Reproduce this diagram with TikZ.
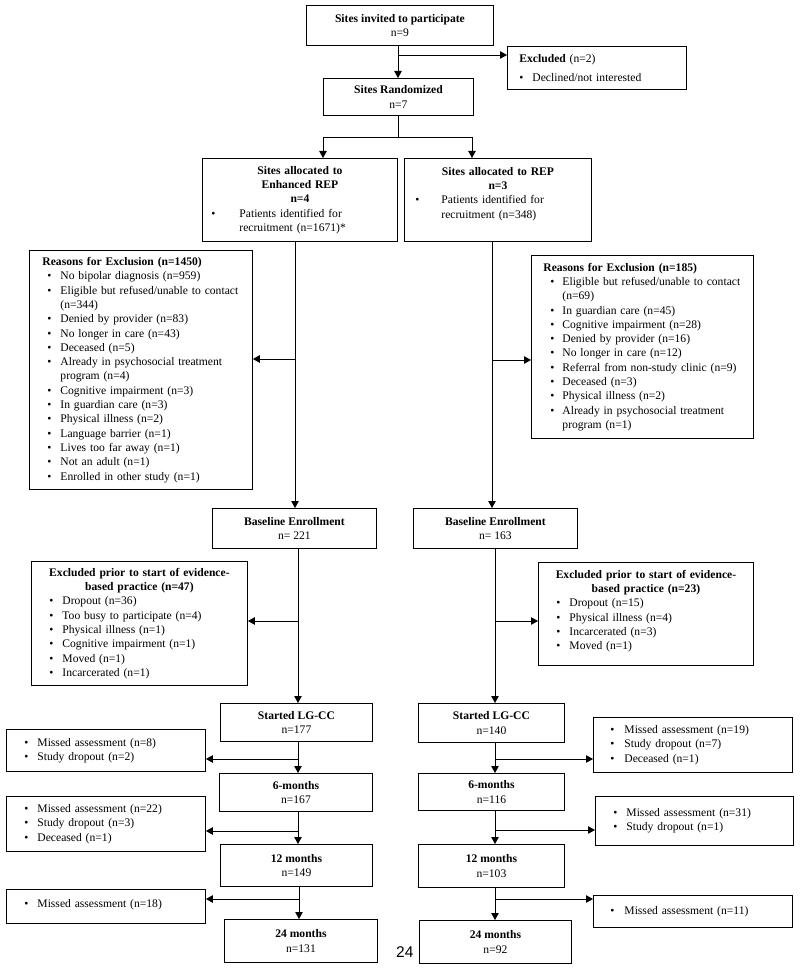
\documentclass[tikz,border=0pt]{standalone}
\usepackage{fontspec}
\setmainfont{Liberation Serif}
\newfontfamily\pgsans{Liberation Sans}
\usetikzlibrary{arrows.meta}
\newcommand{\ffs}{\fontsize{11.6}{14.3}\selectfont}
\newcommand{\blx}[3]{\hangindent=\dimexpr#1pt+#2pt\relax\hangafter=1\hspace*{#1pt}\makebox[#2pt][l]{\textbullet}#3}
\newcommand{\bl}[1]{\blx{18}{13}{#1}}
\tikzset{
  bx/.style={draw, line width=0.9pt, anchor=north west, inner sep=0pt, font=\ffs},
  mb/.style={bx, align=center},
  lb/.style={bx, align=left},
  ln/.style={line width=0.9pt},
  arr/.style={line width=0.9pt, -{Triangle[length=7pt,width=7.5pt]}},
}
\begin{document}
\begin{tikzpicture}[x=1pt,y=-1pt]
\fill[white] (0,0) rectangle (800,968);
\useasboundingbox (0,0) rectangle (800,968);

% top
\node[mb, minimum width=187pt, minimum height=40pt] (inv) at (306,5) {\textbf{Sites invited to participate}\\n=9};
\node[lb, text width=179pt, minimum height=43pt] (excl) at (507,46) {\hspace*{12pt}\textbf{Excluded} (n=2)\par\vspace{5.5pt}\blx{12}{13}{Declined/not interested}\par};
\node[mb, minimum width=150pt, minimum height=37pt] (rand) at (323,78) {\textbf{Sites Randomized}\\n=7};

\node[lb, text width=195pt, minimum height=83pt] (enh) at (202,158) {{\centering\bfseries Sites allocated to\\Enhanced REP\\n=4\par}\blx{9}{28}{Patients identified for\newline recruitment (n=1671)*}\par};
\node[lb, text width=187pt, minimum height=83pt] (rep) at (404,158) {{\centering\bfseries Sites allocated to REP\\n=3\par}\blx{11}{26}{Patients identified for\newline recruitment (n=348)}\par\mbox{}\par};

% reasons
\node[lb, text width=223pt, minimum height=239pt] (rl) at (29,250) {\hspace*{13pt}\textbf{Reasons for Exclusion (n=1450)}\par
\bl{No bipolar diagnosis (n=959)}\par
\bl{Eligible but refused/unable to contact\newline(n=344)}\par
\bl{Denied by provider (n=83)}\par
\bl{No longer in care (n=43)}\par
\bl{Deceased (n=5)}\par
\bl{Already in psychosocial treatment\newline program (n=4)}\par
\bl{Cognitive impairment (n=3)}\par
\bl{In guardian care (n=3)}\par
\bl{Physical illness (n=2)}\par
\bl{Language barrier (n=1)}\par
\bl{Lives too far away (n=1)}\par
\bl{Not an adult (n=1)}\par
\bl{Enrolled in other study (n=1)}\par};

\node[lb, text width=222pt, minimum height=183pt] (rr) at (531,255) {\hspace*{12pt}\textbf{Reasons for Exclusion (n=185)}\par
\blx{19}{12}{Eligible but refused/unable to contact\newline(n=69)}\par
\blx{19}{12}{In guardian care (n=45)}\par
\blx{19}{12}{Cognitive impairment (n=28)}\par
\blx{19}{12}{Denied by provider (n=16)}\par
\blx{19}{12}{No longer in care (n=12)}\par
\blx{19}{12}{Referral from non-study clinic (n=9)}\par
\blx{19}{12}{Deceased (n=3)}\par
\blx{19}{12}{Physical illness (n=2)}\par
\blx{19}{12}{Already in psychosocial treatment\newline program (n=1)}\par};

% baseline
\node[mb, minimum width=164pt, minimum height=40pt] (bl) at (212,508) {\textbf{Baseline Enrollment}\\n= 221};
\node[mb, minimum width=164pt, minimum height=40pt] (br) at (413,508) {\textbf{Baseline Enrollment}\\n= 163};

% excluded prior
\node[lb, text width=216pt, minimum height=124pt] (el) at (31,561) {{\centering\bfseries Excluded prior to start of evidence-\\based practice (n=47)\par}
\bl{Dropout (n=36)}\par
\bl{Too busy to participate (n=4)}\par
\bl{Physical illness (n=1)}\par
\bl{Cognitive impairment (n=1)}\par
\bl{Moved (n=1)}\par
\bl{Incarcerated (n=1)}\par};
\node[lb, text width=215pt, minimum height=103pt] (er) at (538,562) {{\centering\bfseries Excluded prior to start of evidence-\\based practice (n=23)\par}
\bl{Dropout (n=15)}\par
\bl{Physical illness (n=4)}\par
\bl{Incarcerated (n=3)}\par
\bl{Moved (n=1)}\par\vspace{-6.3pt}\mbox{}\par};

% follow-up left
\node[mb, minimum width=152pt, minimum height=38pt] (sl) at (220,703) {\textbf{Started LG-CC}\\n=177};
\node[mb, minimum width=153pt, minimum height=38pt] (m6l) at (219,773) {\textbf{6-months}\\n=167};
\node[mb, minimum width=152pt, minimum height=42pt] (m12l) at (220,844) {\textbf{12 months}\\n=149};
\node[mb, minimum width=153pt, minimum height=43pt] (m24l) at (224,919) {\textbf{24 months}\\n=131};
\node[lb, text width=199pt, minimum height=42pt] (s1l) at (6,729) {\bl{Missed assessment (n=8)}\par\bl{Study dropout (n=2)}\par};
\node[lb, text width=199pt, minimum height=55pt] (s2l) at (6,796) {\bl{Missed assessment (n=22)}\par\bl{Study dropout (n=3)}\par\bl{Deceased (n=1)}\par};
\node[lb, text width=199pt, minimum height=34pt] (s3l) at (6,889) {\bl{Missed assessment (n=18)}\par\vspace{-8pt}\mbox{}\par};

% follow-up right
\node[mb, minimum width=146pt, minimum height=39pt] (sr) at (418,703) {\textbf{Started LG-CC}\\n=140};
\node[mb, minimum width=146pt, minimum height=37pt] (m6r) at (418,773) {\textbf{6-months}\\n=116};
\node[mb, minimum width=146pt, minimum height=43pt] (m12r) at (418,844) {\textbf{12 months}\\n=103};
\node[mb, minimum width=152pt, minimum height=43pt] (m24r) at (419,920) {\textbf{24 months}\\n=92};
\node[lb, text width=199pt, minimum height=55pt] (s1r) at (593,717) {\blx{17}{14}{Missed assessment (n=19)}\par\blx{17}{14}{Study dropout (n=7)}\par\blx{17}{14}{Deceased (n=1)}\par};
\node[lb, text width=198pt, minimum height=49pt] (s2r) at (595,796) {\bl{Missed assessment (n=31)}\par\bl{Study dropout (n=1)}\par};
\node[lb, text width=199pt, minimum height=32pt] (s3r) at (593,895) {\blx{17}{14}{Missed assessment (n=11)}\par};

\node[font=\pgsans\fontsize{15.5}{18}\selectfont, anchor=base west, inner sep=0pt] (pg) at (396,957) {24};

% connectors top
\coordinate (j0) at (398,55);
\draw[arr] (inv.south -| j0) -- (rand.north -| j0);
\draw[arr] (j0) -- (j0 -| excl.west);
\coordinate (j1) at (398,137);
\coordinate (jl) at (323,137);
\coordinate (jr) at (472,137);
\draw[ln] (rand.south -| j1) -- (j1);
\draw[ln] (jl) -- (jr);
\draw[arr] (jl) -- (enh.north -| jl);
\draw[arr] (jr) -- (rep.north -| jr);

% allocation columns
\coordinate (a1) at (295,359);
\draw[arr] (enh.south -| a1) -- (bl.north -| a1);
\draw[arr] (a1) -- (a1 -| rl.east);
\coordinate (b1) at (492,360);
\draw[arr] (rep.south -| b1) -- (br.north -| b1);
\draw[arr] (b1) -- (b1 -| rr.west);

% left lower
\coordinate (a2) at (298,621);
\draw[arr] (bl.south -| a2) -- (sl.north -| a2);
\draw[arr] (a2) -- (a2 -| el.east);
\coordinate (a3) at (298,759);
\draw[arr] (sl.south -| a3) -- (m6l.north -| a3);
\draw[arr] (a3) -- (a3 -| s1l.east);
\coordinate (a4) at (298,831);
\draw[arr] (m6l.south -| a4) -- (m12l.north -| a4);
\draw[arr] (a4) -- (a4 -| s2l.east);
\coordinate (a5) at (299,899);
\draw[arr] (m12l.south -| a5) -- (m24l.north -| a5);
\draw[arr] (a5) -- (a5 -| s3l.east);

% right lower
\coordinate (b2) at (495,621);
\draw[arr] (br.south -| b2) -- (sr.north -| b2);
\draw[arr] (b2) -- (b2 -| er.west);
\coordinate (b3) at (495,759);
\draw[arr] (sr.south -| b3) -- (m6r.north -| b3);
\draw[arr] (b3) -- (b3 -| s1r.west);
\coordinate (b4) at (495,830);
\draw[arr] (m6r.south -| b4) -- (m12r.north -| b4);
\draw[arr] (b4) -- (b4 -| s2r.west);
\coordinate (b5) at (495,899);
\draw[arr] (m12r.south -| b5) -- (m24r.north -| b5);
\draw[arr] (b5) -- (b5 -| s3r.west);
\end{tikzpicture}
\end{document}
